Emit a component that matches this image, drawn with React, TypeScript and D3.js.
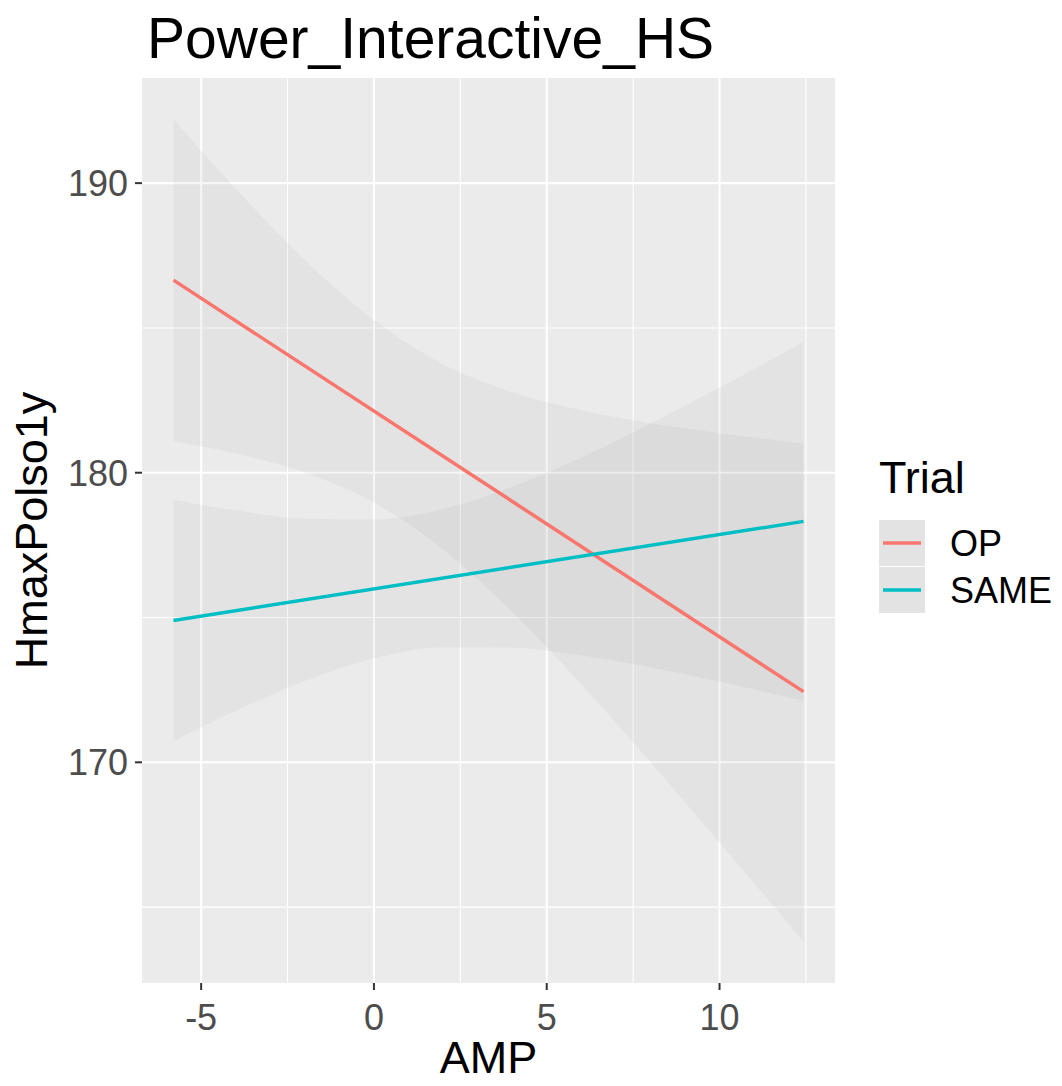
import React from "react";
import * as d3 from "d3";

const trials = ["OP", "SAME"];
const colors = ["#F8766D", "#00BFC4"];
const ampGrid = [-5.8, -4, -2, 0, 2, 4, 6, 8, 10, 12.43];
const opUpper = [192.21, 189.81, 187.35, 185.27, 183.75, 182.78, 182.16, 181.71, 181.37, 181.0];
const opLower = [181.09, 180.67, 180.01, 178.97, 177.35, 175.2, 172.7, 170.01, 167.23, 163.8];
const sameUpper = [179.07, 178.7, 178.41, 178.39, 178.75, 179.52, 180.53, 181.7, 182.94, 184.51];
const sameLower = [170.73, 171.78, 172.81, 173.59, 173.97, 173.96, 173.69, 173.28, 172.78, 172.13];
const lineAmp = [-5.8, 12.43];
const opLine = [186.65, 172.44];
const sameLine = [174.9, 178.32];
const xTicks = [-5, 0, 5, 10];
const xMinor = [-2.5, 2.5, 7.5, 12.5];
const yTicks = [170, 180, 190];
const yMinor = [165, 175, 185];

const W = 1062;
const H = 1086;
const P = { left: 142, right: 835, top: 78, bottom: 983 };
const FONT = "'Liberation Sans', Arial, sans-serif";

export default function App() {
  const allY = [...opUpper, ...opLower, ...sameUpper, ...sameLower, ...opLine, ...sameLine];
  const [y0, y1] = d3.extent(allY) as [number, number];
  const yPad = (y1 - y0) * 0.05;
  const [x0, x1] = d3.extent(ampGrid) as [number, number];
  const xPad = (x1 - x0) * 0.05;
  const x = d3.scaleLinear().domain([x0 - xPad, x1 + xPad]).range([P.left, P.right]);
  const y = d3.scaleLinear().domain([y0 - yPad, y1 + yPad]).range([P.bottom, P.top]);

  const bands = [
    { upper: opUpper, lower: opLower },
    { upper: sameUpper, lower: sameLower },
  ];
  const lines = [opLine, sameLine];

  const bandPath = (b: { upper: number[]; lower: number[] }) =>
    d3
      .area<number>()
      .x((_, i) => x(ampGrid[i]))
      .y0((_, i) => y(b.lower[i]))
      .y1((_, i) => y(b.upper[i]))
      .curve(d3.curveMonotoneX)(ampGrid) as string;

  const linePath = (vals: number[]) =>
    d3
      .line<number>()
      .x((_, i) => x(lineAmp[i]))
      .y((v) => y(v))(vals) as string;

  return (
    <svg width={W} height={H} style={{ display: "block", position: "absolute", left: 0, top: 0 }}>
      <rect x={0} y={0} width={W} height={H} fill="#FFFFFF" />
      <text x={147} y={58} fontFamily={FONT} fontSize={57} fill="#000">
        Power_Interactive_HS
      </text>
      <rect x={P.left} y={P.top} width={P.right - P.left} height={P.bottom - P.top} fill="#EBEBEB" />
      {xMinor.map((t) => (
        <line key={"xm" + t} x1={x(t)} x2={x(t)} y1={P.top} y2={P.bottom} stroke="#FFF" strokeWidth={1.1} />
      ))}
      {yMinor.map((t) => (
        <line key={"ym" + t} x1={P.left} x2={P.right} y1={y(t)} y2={y(t)} stroke="#FFF" strokeWidth={1.1} />
      ))}
      {xTicks.map((t) => (
        <line key={"xM" + t} x1={x(t)} x2={x(t)} y1={P.top} y2={P.bottom} stroke="#FFF" strokeWidth={2.1} />
      ))}
      {yTicks.map((t) => (
        <line key={"yM" + t} x1={P.left} x2={P.right} y1={y(t)} y2={y(t)} stroke="#FFF" strokeWidth={2.1} />
      ))}
      {bands.map((b, i) => (
        <path key={"b" + i} d={bandPath(b)} fill="#999999" fillOpacity={0.1} />
      ))}
      {lines.map((l, i) => (
        <path key={"l" + i} d={linePath(l)} fill="none" stroke={colors[i]} strokeWidth={3.5} />
      ))}
      {xTicks.map((t) => (
        <g key={"xt" + t}>
          <line x1={x(t)} x2={x(t)} y1={P.bottom} y2={P.bottom + 7} stroke="#333" strokeWidth={2} />
          <text x={x(t)} y={P.bottom + 47} textAnchor="middle" fontFamily={FONT} fontSize={36} fill="#4D4D4D">
            {t}
          </text>
        </g>
      ))}
      {yTicks.map((t) => (
        <g key={"yt" + t}>
          <line x1={P.left - 7} x2={P.left} y1={y(t)} y2={y(t)} stroke="#333" strokeWidth={2} />
          <text x={P.left - 14} y={y(t)} dy="0.36em" textAnchor="end" fontFamily={FONT} fontSize={36} fill="#4D4D4D">
            {t}
          </text>
        </g>
      ))}
      <text x={(P.left + P.right) / 2} y={1073} textAnchor="middle" fontFamily={FONT} fontSize={45} fill="#000">
        AMP
      </text>
      <text
        transform={`translate(47,${(P.top + P.bottom) / 2}) rotate(-90)`}
        textAnchor="middle"
        fontFamily={FONT}
        fontSize={45}
        fill="#000"
      >
        HmaxPolso1y
      </text>
      <text x={879} y={493} fontFamily={FONT} fontSize={45} fill="#000">
        Trial
      </text>
      {trials.map((tr, i) => {
        const ky = 520 + i * 47;
        return (
          <g key={tr}>
            <rect x={879} y={ky} width={46} height={46} fill="#EBEBEB" />
            <rect x={879} y={ky} width={46} height={46} fill="#999999" fillOpacity={0.1} />
            <line x1={883} x2={921} y1={ky + 23} y2={ky + 23} stroke={colors[i]} strokeWidth={3.5} />
            <text x={950} y={ky + 23} dy="0.36em" fontFamily={FONT} fontSize={36} fill="#000">
              {tr}
            </text>
          </g>
        );
      })}
    </svg>
  );
}
